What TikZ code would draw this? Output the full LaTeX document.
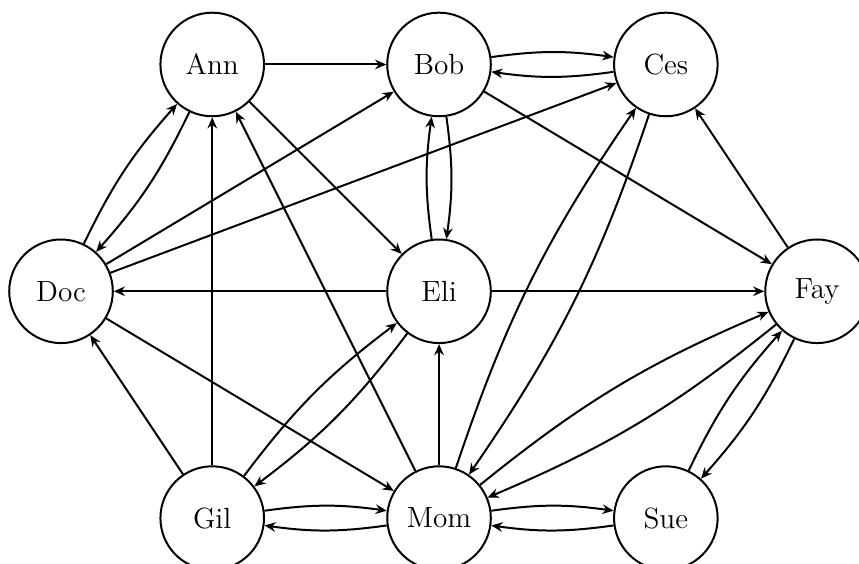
\documentclass[tikz,border=0pt]{standalone}
\usetikzlibrary{arrows.meta}

\begin{document}
\begin{tikzpicture}[
		person/.style={circle, draw, line width=0.75pt, minimum size=1.37cm, inner sep=0pt, font=\fontsize{11}{13}\selectfont},
		link/.style={-{Stealth[length=4.2pt, width=3.6pt, inset=1.4pt]}, line width=0.75pt},
		twin/.style={link, bend left=8}
	]
			%%%%% START %%%%%
			
			\useasboundingbox (-0.807, -0.607) rectangle (10.555, 6.853);
			
			\node[person] (ann) at (2, 6) {Ann};
			\node[person] (bob) at (5, 6) {Bob};
			\node[person] (ces) at (8, 6) {Ces};
			
			\node[person] (doc) at (0, 3) {Doc};
			\node[person] (eli) at (5, 3) {Eli};
			\node[person] (fay) at (10, 3) {Fay};
			
			\node[person] (gil) at (2, 0) {Gil};
			\node[person] (mom) at (5, 0) {Mom};
			\node[person] (sue) at (8, 0) {Sue};
			
			% single links
			\draw[link] (ann) -- (bob);
			\draw[link] (ann) -- (eli);
			\draw[link] (doc) -- (bob);
			\draw[link] (doc) -- (ces);
			\draw[link] (doc) -- (mom);
			\draw[link] (bob) -- (fay);
			\draw[link] (fay) -- (ces);
			\draw[link] (eli) -- (doc);
			\draw[link] (eli) -- (fay);
			\draw[link] (gil) -- (ann);
			\draw[link] (gil) -- (doc);
			\draw[link] (mom) -- (ann);
			\draw[link] (mom) -- (eli);
			
			% pairs both ways
			\draw[twin] (bob) to (ces);
			\draw[twin] (ces) to (bob);
			\draw[twin] (doc) to (ann);
			\draw[twin] (ann) to (doc);
			\draw[twin] (eli) to (bob);
			\draw[twin] (bob) to (eli);
			\draw[twin] (gil) to (eli);
			\draw[twin] (eli) to (gil);
			\draw[twin] (gil) to (mom);
			\draw[twin] (mom) to (gil);
			\draw[twin] (mom) to (ces);
			\draw[twin] (ces) to (mom);
			\draw[twin] (mom) to (fay);
			\draw[twin] (fay) to (mom);
			\draw[twin] (mom) to (sue);
			\draw[twin] (sue) to (mom);
			\draw[twin] (sue) to (fay);
			\draw[twin] (fay) to (sue);
			
			%%%%% END %%%%%
		\end{tikzpicture}
\end{document}
